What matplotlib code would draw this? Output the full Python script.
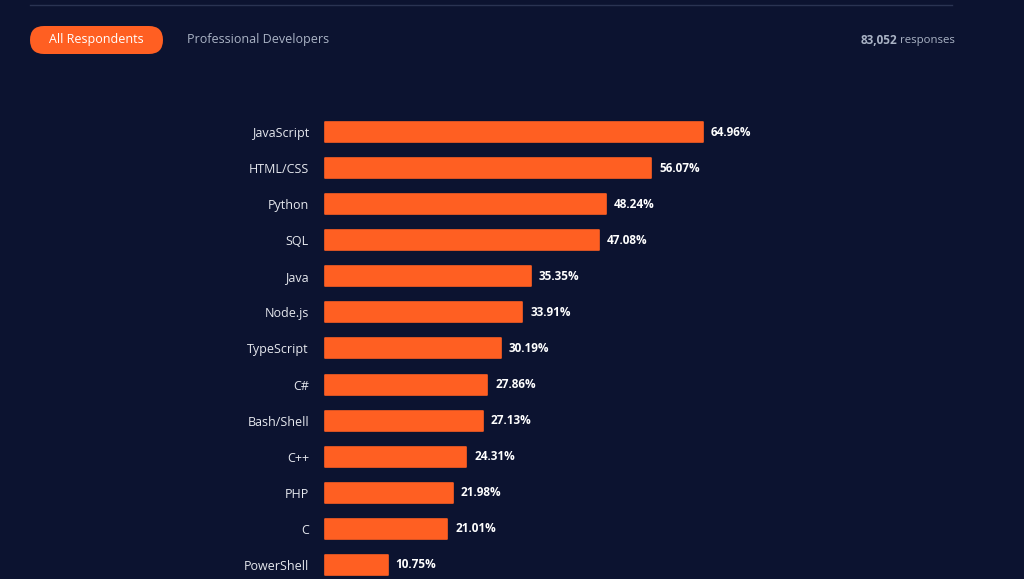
import matplotlib
matplotlib.use("Agg")
import matplotlib.pyplot as plt
from matplotlib.patches import FancyBboxPatch
from matplotlib.lines import Line2D
from matplotlib.transforms import IdentityTransform

languages = ["JavaScript", "HTML/CSS", "Python", "SQL", "Java", "Node.js",
             "TypeScript", "C#", "Bash/Shell", "C++", "PHP", "C", "PowerShell"]
shares = [64.96, 56.07, 48.24, 47.08, 35.35, 33.91, 30.19, 27.86, 27.13,
          24.31, 21.98, 21.01, 10.75]
tab_labels = ["All Respondents", "Professional Developers"]
responses_count = "83,052"
responses_word = "responses"

BG = "#0c1330"
ORANGE = "#ff5f22"
W, H = 1024, 579
plt.rcParams['font.family'] = ['Open Sans', 'DejaVu Sans']

fig = plt.figure(figsize=(W / 100, H / 100), dpi=100, facecolor=BG)

# top divider line
fig.add_artist(Line2D([30 / W, 952 / W], [1 - 5 / H, 1 - 5 / H],
                      color="#2a3352", lw=1))

# tab pill (pixel coordinates, origin bottom-left)
pill = FancyBboxPatch((30, H - 54), 133, 28,
                      boxstyle="round,pad=0,rounding_size=14",
                      transform=IdentityTransform(), facecolor=ORANGE,
                      edgecolor="none")
fig.add_artist(pill)
fig.text(96.5 / W, 1 - 40 / H, tab_labels[0], color="white", fontsize=9,
         ha="center", va="center")
fig.text(187 / W, 1 - 40 / H, tab_labels[1], color="#aab3c5", fontsize=9,
         ha="left", va="center")
fig.text(897 / W, 1 - 41 / H, responses_count, color="#aab3c5", fontsize=8.5,
         fontweight="bold", ha="right", va="center")
fig.text(900 / W, 1 - 41 / H, responses_word, color="#aab3c5", fontsize=8.2,
         ha="left", va="center")

# bar axes
step = 36.08
top_px = 132 - step / 2
bottom_px = H
n_visible = (bottom_px - top_px) / step
left_px, width_px = 325, 640
ax = fig.add_axes([left_px / W, 1 - bottom_px / H, width_px / W,
                   (bottom_px - top_px) / H])
ax.set_facecolor(BG)
px_per_unit = 378 / 64.96
ax.set_xlim(0, width_px / px_per_unit)
ax.set_ylim(-0.5 + n_visible, -0.5)

y = list(range(len(languages)))
bars = ax.barh(y, shares, height=20 / step, color=ORANGE, edgecolor=ORANGE,
               linewidth=1.2)
for b in bars:
    b.set_joinstyle("round")
    b.set_clip_on(False)

for yi, v in zip(y, shares):
    ax.text(v + 8 / px_per_unit, yi, f"{v:.2f}%", color="white", fontsize=8.5,
            fontweight="bold", va="center", ha="left")

ax.set_yticks(y)
ax.set_yticklabels(languages, color="#e6e8ee", fontsize=9)
ax.tick_params(axis="y", length=0, pad=11.5)
ax.set_xticks([])
for s in ax.spines.values():
    s.set_visible(False)

fig.savefig("out.png", dpi=100, facecolor=BG)
